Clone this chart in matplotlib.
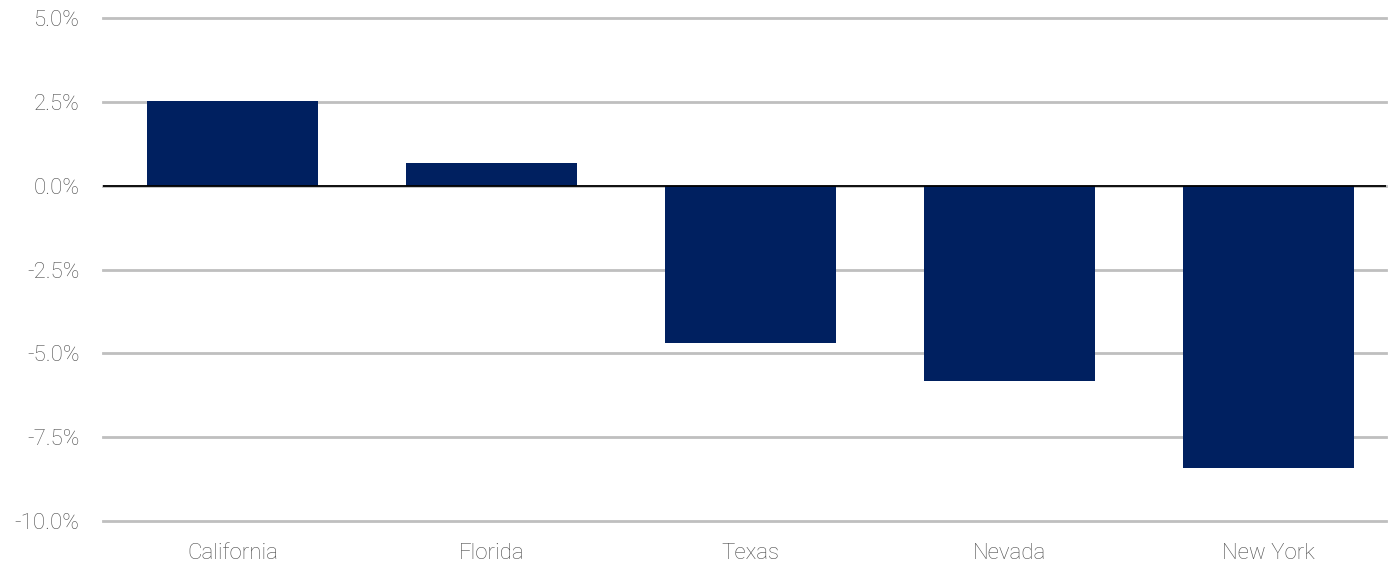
import matplotlib
matplotlib.use('Agg')
import matplotlib.pyplot as plt
from matplotlib.ticker import FuncFormatter

# Data (percent change)
states = ['California', 'Florida', 'Texas', 'Nevada', 'New York']
changes = [2.53, 0.68, -4.69, -5.82, -8.41]
y_ticks = [-10.0, -7.5, -5.0, -2.5, 0.0, 2.5, 5.0]

BAR_COLOR = '#002060'
GRID_COLOR = '#bfbfbf'
TEXT_COLOR = '#4d4d4d'

plt.rcParams['font.family'] = ['Roboto', 'DejaVu Sans']

fig = plt.figure(figsize=(13.98, 5.69), dpi=100)
ax = fig.add_axes([103 / 1398, 1 - 521 / 569, (1386 - 103) / 1398, (521 - 18) / 569])

x = list(range(len(states)))
ax.bar(x, changes, width=0.66, color=BAR_COLOR, zorder=2)
ax.axhline(0, color='black', linewidth=1.3, zorder=3)

ax.set_ylim(-10, 5)
ax.set_xlim(-0.5, 4.455)
ax.set_yticks(y_ticks)
ax.yaxis.set_major_formatter(FuncFormatter(lambda v, p: f'{v:.1f}%'))
ax.set_xticks(x)
ax.set_xticklabels(states)

ax.grid(axis='y', color=GRID_COLOR, linewidth=2, zorder=0)
for gl in ax.yaxis.get_gridlines():
    gl.set_clip_on(False)
ax.set_axisbelow(True)
for s in ax.spines.values():
    s.set_visible(False)
ax.tick_params(length=0, colors=TEXT_COLOR, labelsize=16)
ax.tick_params(axis='y', pad=17)
ax.tick_params(axis='x', pad=16)
for lbl in ax.get_xticklabels() + ax.get_yticklabels():
    lbl.set_fontweight('light')

fig.savefig('out.png', dpi=100)
